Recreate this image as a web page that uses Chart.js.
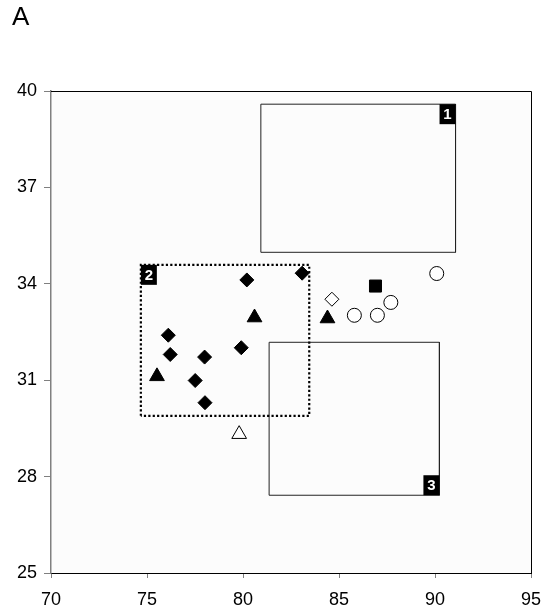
<!DOCTYPE html>
<html>
<head>
<meta charset="utf-8">
<script src="https://cdn.jsdelivr.net/npm/chart.js@4.4.0/dist/chart.umd.min.js"></script>
<style>
  html, body { margin: 0; padding: 0; background: #fff; }
</style>
</head>
<body>
<canvas id="chart" width="557" height="612"></canvas>
<script>
// boxes (x from..to, y from..to)
const boxNames = ['1', '2', '3'];
const boxX0 = [80.93, 74.68, 81.36];
const boxX1 = [91.07, 83.45, 90.23];
const boxY0 = [34.98, 29.89, 27.42];
const boxY1 = [39.59, 34.59, 32.18];

// points
const filledDiamondX = [80.2, 83.08, 76.11, 76.21, 78.0, 79.91, 77.51, 78.02];
const filledDiamondY = [34.12, 34.33, 32.4, 31.8, 31.72, 32.01, 30.99, 30.3];
const filledTriangleX = [80.6, 75.52, 84.4];
const filledTriangleY = [32.95, 31.12, 32.92];
const openTriangleX = [79.8];
const openTriangleY = [29.32];
const openDiamondX = [84.63];
const openDiamondY = [33.52];
const filledSquareX = [86.9];
const filledSquareY = [33.93];
const openCircleX = [90.09, 85.8, 87.0, 87.7];
const openCircleY = [34.32, 33.02, 33.02, 33.42];

const xTicks = [70, 75, 80, 85, 90, 95];
const yTicks = [25, 28, 31, 34, 37, 40];

function pts(xs, ys) {
  return xs.map((x, i) => ({ x: x, y: ys[i] }));
}

function boxPath(i) {
  return [
    { x: boxX0[i], y: boxY0[i] },
    { x: boxX0[i], y: boxY1[i] },
    { x: boxX1[i], y: boxY1[i] },
    { x: boxX1[i], y: boxY0[i] },
    { x: boxX0[i], y: boxY0[i] }
  ];
}

function markerSet(data, style, radius, fill) {
  return {
    type: 'scatter',
    data: data,
    pointStyle: style,
    pointRadius: radius,
    pointHoverRadius: radius,
    pointBackgroundColor: fill,
    pointBorderColor: '#000',
    pointBorderWidth: 1,
    order: 1
  };
}

function boxSet(i, dashed) {
  return {
    type: 'line',
    data: boxPath(i),
    borderColor: dashed ? '#000' : '#222',
    borderWidth: dashed ? 2.2 : 1,
    borderDash: dashed ? [2.2, 2.2] : [],
    pointRadius: 0,
    fill: false,
    tension: 0,
    order: 5
  };
}

const FONT = "'Liberation Sans', Arial, sans-serif";

const framePlugin = {
  id: 'frame',
  beforeDraw(chart) {
    const { ctx, chartArea: a } = chart;
    ctx.save();
    ctx.fillStyle = '#fcfcfc';
    ctx.fillRect(a.left, a.top, a.right - a.left, a.bottom - a.top);
    ctx.restore();
  },
  afterDatasetsDraw(chart) {
    const { ctx, chartArea: a, scales } = chart;
    ctx.save();
    // top and right frame
    ctx.strokeStyle = '#000';
    ctx.lineWidth = 1;
    ctx.beginPath();
    ctx.moveTo(a.left, a.top + 0.5);
    ctx.lineTo(a.right + 0.5, a.top + 0.5);
    ctx.lineTo(a.right + 0.5, a.bottom);
    ctx.stroke();

    // box number tags
    const corner = ['tr', 'tl', 'br'];
    const w = 16, h = 20;
    ctx.font = 'bold 15px ' + FONT;
    ctx.textAlign = 'center';
    ctx.textBaseline = 'middle';
    boxNames.forEach((name, i) => {
      const l = scales.x.getPixelForValue(boxX0[i]);
      const r = scales.x.getPixelForValue(boxX1[i]);
      const t = scales.y.getPixelForValue(boxY1[i]);
      const b = scales.y.getPixelForValue(boxY0[i]);
      const c = corner[i];
      const bx = c.includes('l') ? l : r - w;
      const by = c.includes('t') ? t : b - h;
      ctx.fillStyle = '#000';
      ctx.fillRect(bx, by, w, h);
      ctx.fillStyle = '#fff';
      ctx.fillText(name, bx + w / 2, by + h / 2 + 1);
    });

    // panel letter
    ctx.fillStyle = '#000';
    ctx.font = '26px ' + FONT;
    ctx.textAlign = 'left';
    ctx.textBaseline = 'alphabetic';
    ctx.fillText('A', 12, 25);
    ctx.restore();
  }
};

new Chart(document.getElementById('chart'), {
  type: 'scatter',
  data: {
    datasets: [
      boxSet(0, false),
      boxSet(1, true),
      boxSet(2, false),
      markerSet(pts(filledDiamondX, filledDiamondY), 'rectRot', 7, '#000'),
      markerSet(pts(filledTriangleX, filledTriangleY), 'triangle', 8.5, '#000'),
      markerSet(pts(openTriangleX, openTriangleY), 'triangle', 8.5, '#fff'),
      markerSet(pts(openDiamondX, openDiamondY), 'rectRot', 7, '#fff'),
      markerSet(pts(filledSquareX, filledSquareY), 'rect', 8.5, '#000'),
      markerSet(pts(openCircleX, openCircleY), 'circle', 7, '#fff')
    ]
  },
  options: {
    responsive: false,
    animation: false,
    layout: { padding: { left: 0, top: 91, right: 26, bottom: 0 } },
    plugins: {
      legend: { display: false },
      tooltip: { enabled: false }
    },
    scales: {
      x: {
        type: 'linear',
        min: 70,
        max: 95,
        afterBuildTicks: (s) => { s.ticks = xTicks.map(v => ({ value: v })); },
        afterFit: (s) => { s.height = 39; },
        ticks: { color: '#000', font: { family: FONT, size: 18 }, padding: 11, maxRotation: 0 },
        grid: { drawOnChartArea: false, drawTicks: true, tickLength: 5, color: '#808080' },
        border: { display: true, color: '#000', width: 1 }
      },
      y: {
        type: 'linear',
        min: 25,
        max: 40,
        afterBuildTicks: (s) => { s.ticks = yTicks.map(v => ({ value: v })); },
        afterFit: (s) => { s.width = 51; },
        ticks: { color: '#000', font: { family: FONT, size: 18 }, padding: 7 },
        grid: { drawOnChartArea: false, drawTicks: true, tickLength: 7, color: '#808080' },
        border: { display: true, color: '#808080', width: 1.5 }
      }
    }
  },
  plugins: [framePlugin]
});
</script>
</body>
</html>
